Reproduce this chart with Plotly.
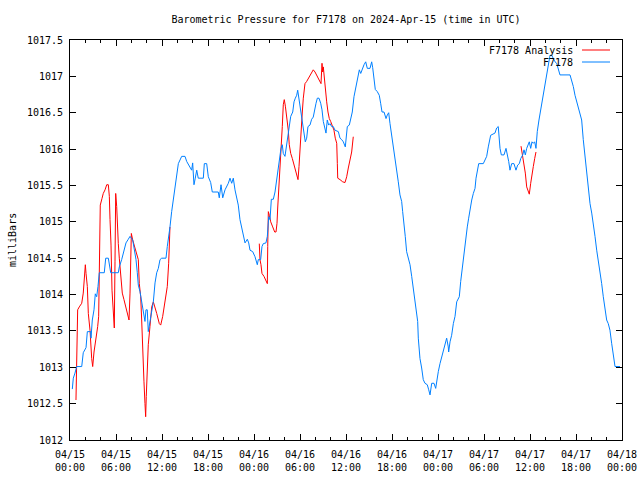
import plotly.graph_objects as go

# ---- data (hours since 2024-04-15 00:00 UTC, pressure in mb) ----
blue_h = [0.30,0.43,0.65,0.87,1.53,1.73,2.09,2.26,2.70,2.74,2.91,3.13,3.30,3.48,3.65,3.82,4.47,4.66,5.00,5.22,5.31,6.30,6.43,6.74,7.04,7.30,7.60,7.83,8.18,8.35,8.61,8.78,8.91,9.13,9.35,9.56,9.78,9.91,10.08,10.21,10.43,10.66,10.87,11.09,11.31,11.52,11.74,11.96,12.52,12.69,12.82,13.04,13.26,13.47,13.60,13.79,14.00,14.13,14.57,15.00,15.22,15.65,15.87,16.00,16.17,16.34,16.53,16.73,17.39,17.52,17.83,18.04,18.35,18.56,19.34,19.47,19.70,19.92,20.22,20.65,20.87,21.09,21.30,21.52,21.74,21.95,22.17,22.40,22.61,22.83,23.13,23.31,23.48,23.83,24.13,24.43,24.56,24.87,25.04,25.21,25.56,25.74,25.92,26.09,26.26,26.52,26.74,26.87,27.09,27.30,27.52,27.69,27.82,28.04,28.26,28.47,28.60,28.79,29.05,29.22,29.39,29.57,29.70,29.83,30.00,30.22,30.35,30.52,30.69,30.87,31.04,31.30,31.52,31.73,31.91,32.09,32.26,32.48,32.70,32.87,33.04,33.26,33.39,33.56,33.74,33.91,34.13,34.34,34.56,35.00,35.22,35.44,35.65,35.91,36.00,36.17,36.43,36.65,36.82,37.04,37.21,37.39,37.56,37.74,37.92,38.09,38.35,38.57,38.78,39.13,39.35,39.48,39.65,39.82,40.08,40.34,40.52,40.70,40.96,41.22,41.39,41.57,41.74,41.96,42.09,42.30,42.48,42.61,42.82,43.04,43.26,43.39,43.57,43.73,43.91,44.13,44.35,44.57,44.78,45.00,45.22,45.35,45.43,45.65,45.87,46.08,46.30,46.60,46.79,46.96,47.18,47.48,47.70,47.83,48.04,48.26,48.48,48.69,48.91,49.13,49.34,49.39,49.57,49.78,50.00,50.22,50.44,50.78,50.96,51.13,51.30,51.48,51.65,51.82,52.00,52.17,52.40,52.61,52.83,52.96,53.18,53.31,53.91,54.13,54.35,54.56,54.87,55.43,55.65,55.86,56.09,56.26,56.61,56.87,57.04,57.22,57.39,57.61,57.91,58.17,58.39,58.61,58.79,59.05,59.22,59.39,59.57,59.91,60.09,60.26,60.43,60.61,60.78,60.95,61.17,61.39,61.57,61.74,61.96,62.18,62.39,62.61,62.83,63.04,63.26,63.48,63.69,63.91,65.22,65.44,65.65,65.87,66.09,66.30,66.52,66.74,66.95,67.17,67.39,67.60,67.83,68.05,68.26,68.48,68.70,68.91,69.13,69.35,69.56,69.78,70.00,70.21,70.43,70.65,70.87,71.09,71.74]
blue_p = [1012.70,1012.85,1012.92,1013.01,1013.01,1013.20,1013.27,1013.49,1013.49,1013.40,1013.65,1013.79,1014.01,1013.97,1014.11,1014.30,1014.30,1014.50,1014.50,1014.36,1014.30,1014.30,1014.38,1014.48,1014.59,1014.71,1014.76,1014.80,1014.75,1014.66,1014.48,1014.30,1014.13,1014.04,1013.88,1013.75,1013.63,1013.79,1013.79,1013.49,1013.61,1013.79,1013.90,1014.16,1014.30,1014.36,1014.48,1014.50,1014.50,1014.66,1014.75,1014.93,1015.14,1015.30,1015.44,1015.55,1015.71,1015.80,1015.90,1015.90,1015.83,1015.76,1015.71,1015.81,1015.51,1015.60,1015.71,1015.60,1015.60,1015.80,1015.80,1015.62,1015.54,1015.41,1015.41,1015.33,1015.51,1015.33,1015.44,1015.53,1015.60,1015.53,1015.60,1015.44,1015.33,1015.23,1015.03,1014.93,1014.80,1014.71,1014.76,1014.71,1014.61,1014.59,1014.52,1014.41,1014.48,1014.48,1014.66,1014.70,1014.71,1014.80,1015.07,1015.03,1015.31,1015.31,1015.41,1015.51,1015.62,1015.80,1016.01,1016.06,1015.94,1015.90,1016.06,1016.18,1016.33,1016.45,1016.51,1016.65,1016.70,1016.74,1016.81,1016.72,1016.59,1016.47,1016.38,1016.22,1016.10,1016.15,1016.31,1016.33,1016.41,1016.44,1016.56,1016.63,1016.70,1016.70,1016.63,1016.54,1016.38,1016.26,1016.22,1016.40,1016.33,1016.35,1016.31,1016.31,1016.26,1016.24,1016.15,1016.13,1016.10,1016.03,1016.13,1016.31,1016.33,1016.45,1016.51,1016.72,1016.81,1016.88,1016.95,1017.09,1017.04,1017.09,1017.16,1017.20,1017.11,1017.11,1017.20,1017.12,1016.97,1016.82,1016.79,1016.74,1016.63,1016.51,1016.51,1016.42,1016.47,1016.50,1016.35,1016.19,1016.10,1015.99,1015.85,1015.74,1015.55,1015.37,1015.28,1015.14,1015.00,1014.80,1014.59,1014.50,1014.41,1014.25,1014.09,1013.90,1013.79,1013.63,1013.40,1013.12,1012.99,1012.83,1012.78,1012.76,1012.69,1012.62,1012.78,1012.78,1012.71,1012.83,1012.94,1013.05,1013.14,1013.24,1013.31,1013.40,1013.28,1013.21,1013.35,1013.44,1013.60,1013.70,1013.90,1013.97,1014.18,1014.34,1014.48,1014.66,1014.80,1014.93,1015.05,1015.19,1015.30,1015.39,1015.46,1015.60,1015.76,1015.80,1015.80,1015.85,1015.90,1016.03,1016.19,1016.22,1016.29,1016.31,1016.01,1015.92,1015.92,1016.01,1015.94,1015.83,1015.71,1015.80,1015.80,1015.71,1015.78,1015.80,1015.87,1015.92,1015.99,1015.92,1016.01,1016.10,1016.01,1016.10,1016.08,1016.10,1016.01,1016.24,1016.40,1016.54,1016.65,1016.77,1016.88,1017.04,1017.18,1017.29,1017.29,1017.25,1017.20,1017.18,1017.11,1017.02,1017.02,1016.95,1016.86,1016.74,1016.65,1016.56,1016.51,1016.40,1016.13,1015.90,1015.64,1015.44,1015.25,1015.12,1014.98,1014.80,1014.61,1014.48,1014.29,1014.15,1013.97,1013.79,1013.65,1013.60,1013.51,1013.33,1013.17,1013.01,1013.01]

red_h = [0.78,0.87,1.00,1.21,1.53,1.73,1.87,2.00,2.09,2.26,2.39,2.61,2.83,2.96,3.13,3.30,3.48,3.61,3.74,3.82,3.95,4.17,4.34,4.57,4.79,5.00,5.13,5.22,5.35,5.48,5.65,5.78,5.87,5.96,6.09,6.17,6.30,6.43,6.61,6.82,7.04,7.26,7.47,7.70,7.83,7.92,8.00,8.18,8.44,8.70,8.91,9.04,9.22,9.35,9.48,9.65,9.78,9.87,9.95,10.08,10.21,10.43,10.66,10.87,11.09,11.31,11.65,11.83,12.09,12.30,12.52,12.69,12.87,12.95,13.04,
         None,
         24.69,24.78,24.91,25.04,25.30,25.56,25.74,25.79,25.87,26.00,26.18,26.44,26.70,26.87,27.00,27.09,27.22,27.35,27.48,27.56,27.69,27.82,27.95,28.09,28.26,28.47,28.60,28.79,29.00,29.22,29.44,29.57,29.74,29.87,30.00,30.13,30.30,30.43,30.65,30.87,31.08,31.30,31.52,31.73,31.96,32.18,32.39,32.61,32.74,32.87,32.96,33.04,33.17,33.30,33.48,33.65,33.82,34.00,34.21,34.43,34.60,34.79,34.87,34.92,35.22,35.57,35.87,36.09,36.30,36.52,36.74,36.95,
         None,
         58.83,59.05,59.22,59.39,59.57,59.78,59.91,60.09,60.26,60.43,60.61,60.78]
red_p = [1012.55,1013.17,1013.79,1013.83,1013.88,1014.02,1014.27,1014.41,1014.29,1014.11,1013.74,1013.51,1013.12,1013.01,1013.21,1013.33,1013.44,1013.56,1013.70,1014.52,1015.23,1015.32,1015.39,1015.44,1015.51,1015.51,1015.35,1015.03,1014.68,1014.06,1013.70,1013.54,1014.45,1015.39,1015.21,1014.93,1014.70,1014.50,1014.27,1014.02,1013.93,1013.83,1013.74,1013.65,1014.02,1014.57,1014.84,1014.75,1014.66,1014.57,1014.48,1014.15,1013.97,1013.65,1013.15,1012.80,1012.50,1012.32,1012.60,1012.96,1013.31,1013.56,1013.83,1013.90,1013.83,1013.74,1013.60,1013.58,1013.70,1013.83,1013.97,1014.11,1014.43,1014.70,1014.93,
         None,
         1014.70,1014.48,1014.41,1014.29,1014.25,1014.18,1014.15,1014.66,1015.14,1015.09,1015.00,1014.93,1014.86,1014.86,1014.98,1015.19,1015.41,1015.67,1015.80,1016.06,1016.31,1016.61,1016.68,1016.59,1016.45,1016.26,1016.06,1015.94,1015.87,1015.78,1015.69,1015.62,1015.58,1015.76,1016.03,1016.31,1016.51,1016.70,1016.90,1016.93,1016.97,1017.02,1017.06,1017.09,1017.06,1017.02,1016.97,1016.93,1016.90,1017.18,1017.06,1017.13,1016.95,1016.86,1016.65,1016.51,1016.42,1016.38,1016.33,1016.26,1016.15,1016.08,1015.80,1015.60,1015.58,1015.55,1015.54,1015.62,1015.74,1015.83,1015.96,1016.17,
         None,
         1016.04,1015.90,1015.76,1015.67,1015.48,1015.40,1015.38,1015.53,1015.62,1015.76,1015.87,1015.96]

x_tick_vals = [0, 6, 12, 18, 24, 30, 36, 42, 48, 54, 60, 66, 72]
x_tick_text = ["04/15<br>00:00", "04/15<br>06:00", "04/15<br>12:00", "04/15<br>18:00",
               "04/16<br>00:00", "04/16<br>06:00", "04/16<br>12:00", "04/16<br>18:00",
               "04/17<br>00:00", "04/17<br>06:00", "04/17<br>12:00", "04/17<br>18:00",
               "04/18<br>00:00"]
y_tick_vals = [1012, 1012.5, 1013, 1013.5, 1014, 1014.5, 1015, 1015.5, 1016, 1016.5, 1017, 1017.5]
y_tick_text = ["1012", "1012.5", "1013", "1013.5", "1014", "1014.5", "1015", "1015.5",
               "1016", "1016.5", "1017", "1017.5"]

RED = "#ff0000"
BLUE = "#0080ff"
FONT = "DejaVu Sans Mono"

fig = go.Figure()
fig.add_trace(go.Scatter(x=red_h, y=red_p, mode="lines", name="F7178 Analysis",
                         line=dict(color=RED, width=1), connectgaps=False))
fig.add_trace(go.Scatter(x=blue_h, y=blue_p, mode="lines", name="F7178",
                         line=dict(color=BLUE, width=1)))

fig.update_layout(
    width=640, height=480, autosize=False,
    margin=dict(l=70, r=18, t=40, b=40, autoexpand=False),
    paper_bgcolor="white", plot_bgcolor="white",
    showlegend=False,
    font=dict(family=FONT, size=10, color="black"),
    title=dict(text="Barometric Pressure for F7178 on 2024-Apr-15 (time in UTC)",
               x=0.5, xref="paper", xanchor="center", y=1 - 19/480, yanchor="middle",
               font=dict(family=FONT, size=10, color="black")),
)
fig.update_xaxes(range=[0, 72], tickmode="array", tickvals=x_tick_vals, ticktext=x_tick_text,
                 automargin=False, ticklabelstandoff=5,
                 ticks="inside", ticklen=6, tickcolor="black", showgrid=False, zeroline=False,
                 showline=True, linecolor="black", linewidth=1, mirror="ticks",
                 minor=dict(tickmode="linear", tick0=0, dtick=2, ticks="inside", ticklen=3,
                            tickcolor="black", showgrid=False),
                 tickfont=dict(family=FONT, size=10, color="black"))
fig.update_yaxes(range=[1012, 1017.5], tickmode="array", tickvals=y_tick_vals, ticktext=y_tick_text,
                 automargin=False,
                 ticks="inside", ticklen=6, tickcolor="black", showgrid=False, zeroline=False,
                 showline=True, linecolor="black", linewidth=1, mirror="ticks",
                 ticklabelstandoff=4,
                 tickfont=dict(family=FONT, size=10, color="black"))

# y-axis title
fig.add_annotation(text="milliBars", xref="paper", yref="paper", x=-(70 - 12) / 552, y=0.5,
                   textangle=-90, showarrow=False, xanchor="center", yanchor="middle",
                   font=dict(family=FONT, size=10, color="black"))

# gnuplot-style legend (text right-aligned, sample to the right)
legend_items = [("F7178 Analysis", RED, (440 - 50) / 400), ("F7178", BLUE, (440 - 62) / 400)]
for label, col, yy in legend_items:
    fig.add_annotation(text=label, xref="paper", yref="paper", x=(575 - 70) / 552, y=yy,
                       xanchor="right", yanchor="middle", showarrow=False,
                       font=dict(family=FONT, size=10, color="black"))
    fig.add_shape(type="line", xref="paper", yref="paper", x0=(582 - 70) / 552, x1=(610 - 70) / 552,
                  y0=yy, y1=yy, line=dict(color=col, width=1))

fig.write_html("out.html", config={"displayModeBar": False},
               post_script="document.body.style.margin='0px';")
